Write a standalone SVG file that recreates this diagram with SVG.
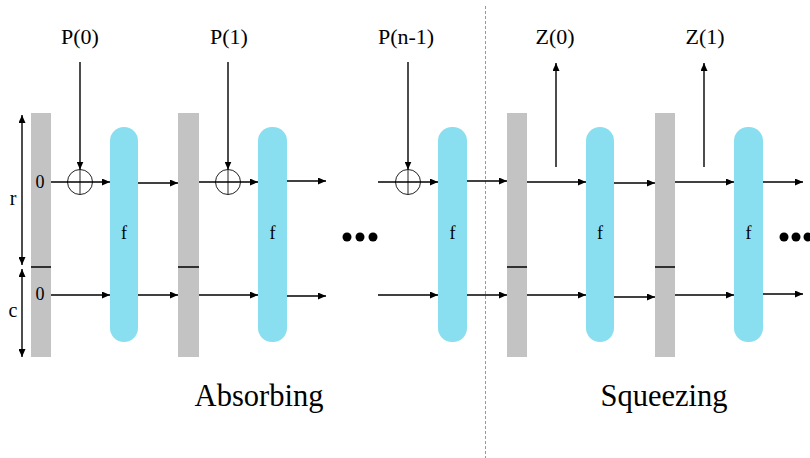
<svg xmlns="http://www.w3.org/2000/svg" width="810" height="458" viewBox="0 0 810 458">
<defs>
<marker id="ah" viewBox="0 0 8 7" refX="8" refY="3.5" markerWidth="8" markerHeight="7" markerUnits="userSpaceOnUse" orient="auto-start-reverse">
<path d="M0,0 L8,3.5 L0,7 z" fill="#000"/>
</marker>
</defs>
<style>
.bar{fill:#c3c3c3}
.div{stroke:#000;stroke-width:1.5}
.fbox{fill:#89dfef}
.ln{stroke:#000;stroke-width:1.4;fill:none}
.arr{stroke:#000;stroke-width:1.4;fill:none;marker-end:url(#ah)}
.darr{stroke:#000;stroke-width:1.4;fill:none;marker-end:url(#ah);marker-start:url(#ah)}
.xor{fill:none;stroke:#222;stroke-width:1}
.t{font-family:"Liberation Serif","Times New Roman",serif;fill:#000}
.lbl{font-size:22px;text-anchor:middle}
.big{font-size:30.5px;text-anchor:middle}
.sm{font-size:18px;text-anchor:middle}
.dot{fill:#000}
</style>
<rect width="810" height="458" fill="#fff"/>

<line x1="485.5" y1="6" x2="485.5" y2="458" stroke="#999" stroke-width="1" stroke-dasharray="3,2"/>

<g id="bar1"><rect class="bar" x="31" y="113" width="20" height="244"/><line class="div" x1="31" y1="267" x2="51" y2="267"/><text class="t sm" x="40" y="188">0</text><text class="t sm" x="40" y="300">0</text></g>
<g id="bar2"><rect class="bar" x="178" y="113" width="21" height="244"/><line class="div" x1="178" y1="267" x2="199" y2="267"/></g>
<g id="bar3"><rect class="bar" x="507" y="113" width="20" height="244"/><line class="div" x1="507" y1="267" x2="527" y2="267"/></g>
<g id="bar4"><rect class="bar" x="655" y="113" width="20" height="244"/><line class="div" x1="655" y1="267" x2="675" y2="267"/></g>

<g id="f1"><rect class="fbox" x="110" y="127" width="28" height="215" rx="14"/><text class="t sm" x="124" y="239">f</text></g>
<g id="f2"><rect class="fbox" x="258" y="127" width="29" height="215" rx="14"/><text class="t sm" x="272.5" y="239">f</text></g>
<g id="f3"><rect class="fbox" x="438" y="127" width="29" height="215" rx="14"/><text class="t sm" x="452.5" y="239">f</text></g>
<g id="f4"><rect class="fbox" x="586" y="127" width="28" height="215" rx="14"/><text class="t sm" x="600" y="239">f</text></g>
<g id="f5"><rect class="fbox" x="734" y="127" width="29" height="215" rx="14"/><text class="t sm" x="748.5" y="239">f</text></g>

<g id="xor1"><circle class="xor" cx="80" cy="182" r="12.5"/><line class="xor" x1="80" y1="169.5" x2="80" y2="194.5"/></g>
<g id="xor2"><circle class="xor" cx="228" cy="182" r="12.5"/><line class="xor" x1="228" y1="169.5" x2="228" y2="194.5"/></g>
<g id="xor3"><circle class="xor" cx="408" cy="182" r="12.5"/><line class="xor" x1="408" y1="169.5" x2="408" y2="194.5"/></g>

<g id="labels">
<text class="t lbl" x="80" y="44">P(0)</text>
<text class="t lbl" x="229" y="44">P(1)</text>
<text class="t lbl" x="406" y="44">P(n-1)</text>
<text class="t lbl" x="555" y="44">Z(0)</text>
<text class="t lbl" x="705" y="44">Z(1)</text>
<text class="t" x="13" y="205" font-size="20" text-anchor="middle">r</text>
<text class="t" x="13" y="317" font-size="20" text-anchor="middle">c</text>
<text class="t big" x="259" y="406">Absorbing</text>
<text class="t big" x="664" y="406">Squeezing</text>
</g>

<g id="dots">
<circle class="dot" cx="347" cy="237" r="4.5"/><circle class="dot" cx="360" cy="237" r="4.5"/><circle class="dot" cx="373" cy="237" r="4.5"/>
<circle class="dot" cx="784" cy="237" r="4.5"/><circle class="dot" cx="796" cy="237" r="4.5"/><circle class="dot" cx="808" cy="237" r="4.5"/>
</g>

<g id="connectors">
<line class="darr" x1="22" y1="115" x2="22" y2="265"/>
<line class="darr" x1="22" y1="269" x2="22" y2="357"/>
<line class="arr" x1="80" y1="62" x2="80" y2="169.5"/>
<line class="arr" x1="228" y1="62" x2="228" y2="169.5"/>
<line class="arr" x1="408" y1="62" x2="408" y2="169.5"/>
<line class="arr" x1="556" y1="167" x2="556" y2="63"/>
<line class="arr" x1="704" y1="167" x2="704" y2="63"/>

<line class="arr" x1="51" y1="182" x2="110" y2="182"/>
<line class="arr" x1="138" y1="183" x2="178" y2="183"/>
<line class="arr" x1="199" y1="182" x2="258" y2="182"/>
<line class="arr" x1="287" y1="181" x2="326" y2="181"/>
<line class="arr" x1="378" y1="182" x2="438" y2="182"/>
<line class="arr" x1="467" y1="181" x2="507" y2="181"/>
<line class="arr" x1="527" y1="182" x2="586" y2="182"/>
<line class="arr" x1="614" y1="183" x2="655" y2="183"/>
<line class="arr" x1="675" y1="182" x2="734" y2="182"/>
<line class="arr" x1="763" y1="182" x2="803" y2="182"/>

<line class="arr" x1="51" y1="295" x2="110" y2="295"/>
<line class="arr" x1="138" y1="295" x2="178" y2="295"/>
<line class="arr" x1="199" y1="295" x2="258" y2="295"/>
<line class="arr" x1="287" y1="296" x2="326" y2="296"/>
<line class="arr" x1="378" y1="295" x2="438" y2="295"/>
<line class="arr" x1="467" y1="295" x2="507" y2="295"/>
<line class="arr" x1="527" y1="295" x2="586" y2="295"/>
<line class="arr" x1="614" y1="297" x2="655" y2="297"/>
<line class="arr" x1="675" y1="295" x2="734" y2="295"/>
<line class="arr" x1="763" y1="294" x2="803" y2="294"/>
</g>
</svg>
